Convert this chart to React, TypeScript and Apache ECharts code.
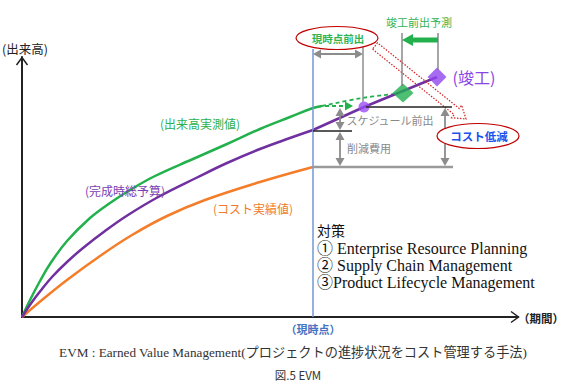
import React, { useEffect, useRef } from 'react';
import * as echarts from 'echarts';

// Data space: t = period (px from origin), v = value (px above origin)
const plannedValue = [[0,0],[10,15],[20,28],[30,40],[45,55],[61,69],[83,86],[106,102],[138,121],[174,139],[205,154],[238,168],[268,179],[291,187]];
const earnedValue = [[0,0],[8,17],[18,36],[28,53],[45,76],[68,99],[88,114],[108,127],[133,141],[171,158],[205,173],[238,188],[268,200],[291,209],[300,211]];
const actualCost = [[0,0],[20,17],[45,37],[78,61],[110,82],[145,101],[183,117],[238,135],[291,150]];
const plannedForecast = [[291,187],[342,210],[415,240]];
const earnedForecast = [[300,211],[340,219],[373,223]];
const schedulePoint = [[342,210]];
const forecastFinish = [[381,224]];
const plannedFinish = [[415,240]];

const measures = ['対策', '① Enterprise Resource Planning', '② Supply Chain Management', '③Product Lifecycle Management'];

const SANS = "'Noto Sans CJK JP', 'Noto Sans', sans-serif";
const SERIF = "'Liberation Serif', 'Noto Sans CJK JP', serif";
const GRAY = '#8c8c8c';
const GREEN = '#22b14c';
const PURPLE = '#7030a0';
const ORANGE = '#f47d2a';
const BLUE = '#7596d9';
const RED = '#c00000';

const line = (x1: number, y1: number, x2: number, y2: number, stroke: string, lineWidth: number, lineDash?: number[]) => ({
  type: 'line', z: 10, shape: { x1, y1, x2, y2 }, style: { stroke, lineWidth, lineDash: lineDash || null },
});
const tri = (tx: number, ty: number, dx: number, dy: number, len: number, half: number, fill: string) => {
  const bx = tx - dx * len, by = ty - dy * len;
  const nx = -dy, ny = dx;
  return { type: 'polygon', z: 11, shape: { points: [[tx, ty], [bx + nx * half, by + ny * half], [bx - nx * half, by - ny * half]] }, style: { fill } };
};
const dblV = (x: number, y1: number, y2: number) => [
  line(x, y1 + 6, x, y2 - 6, GRAY, 1.8), tri(x, y1, 0, -1, 8, 4.5, GRAY), tri(x, y2, 0, 1, 8, 4.5, GRAY),
];
const dblH = (y: number, x1: number, x2: number) => [
  line(x1 + 6, y, x2 - 6, y, GRAY, 1.8), tri(x1, y, -1, 0, 8, 4.5, GRAY), tri(x2, y, 1, 0, 8, 4.5, GRAY),
];
const txt = (text: string, x: number, y: number, fill: string, fontSize: number, fontWeight: any = 'normal', fontFamily = SANS, align = 'center') => ({
  type: 'text', z: 20, x, y,
  style: { text, fill, fontSize, fontWeight, fontFamily, textAlign: align, align, textVerticalAlign: 'middle', verticalAlign: 'middle' },
});
const blockArrow = (sx: number, sy: number, tx: number, ty: number) => {
  const L = Math.hypot(tx - sx, ty - sy);
  const ux = (tx - sx) / L, uy = (ty - sy) / L;
  const nx = -uy, ny = ux;
  const bx = tx - ux * 12, by = ty - uy * 12;
  const p = (x: number, y: number, k: number) => [x + nx * k, y + ny * k];
  return {
    type: 'polygon', z: 9,
    shape: { points: [p(sx, sy, 4), p(bx, by, 4), p(bx, by, 8), [tx, ty], p(bx, by, -8), p(bx, by, -4), p(sx, sy, -4)] },
    style: { fill: 'none', stroke: '#d42020', lineWidth: 1.2, lineDash: [1.5, 1.5] },
  };
};

export default function App() {
  const ref = useRef<HTMLDivElement>(null);
  useEffect(() => {
    if (!ref.current) return;
    const chart = echarts.init(ref.current, null, { renderer: 'svg' });
    const axisCommon = {
      type: 'value', min: 0,
      axisLine: { show: true, lineStyle: { color: '#222', width: 2 } },
      axisTick: { show: false }, axisLabel: { show: false }, splitLine: { show: false },
    };
    const graphic: any[] = [
      { type: 'polyline', z: 10, shape: { points: [[511, 311.5], [518.5, 317], [511, 322.5]] }, style: { stroke: '#222', lineWidth: 1.5, fill: 'none' } },
      { type: 'polyline', z: 10, shape: { points: [[16.5, 65], [22, 57.5], [27.5, 65]] }, style: { stroke: '#222', lineWidth: 1.5, fill: 'none' } },
      line(313, 49, 313, 317, BLUE, 1.5),
      line(363, 44, 363, 102, GRAY, 1.5),
      line(402, 33, 402, 86, '#777', 1.3),
      line(438, 33, 438, 70, '#777', 1.3),
      ...dblH(54, 313, 363),
      line(366, 107, 452, 107, '#222', 1.5),
      line(313, 131, 352, 131, '#222', 1.5),
      line(313, 167, 453, 167, '#9a9a9a', 2.5),
      ...dblV(340, 108, 130),
      ...dblV(340, 132, 166),
      ...dblV(445, 108, 166),
      line(438, 40, 411, 40, GREEN, 5),
      tri(402, 40, -1, 0, 11, 6, GREEN),
      line(325, 106, 345, 106, GREEN, 2, [4, 3]),
      tri(353, 106, 1, 0, 8, 4.5, GREEN),
      blockArrow(375, 46, 466, 119),
      { type: 'ellipse', z: 15, shape: { cx: 337, cy: 38, rx: 41, ry: 11.5 }, style: { fill: '#fff', stroke: RED, lineWidth: 1.2 } },
      { type: 'ellipse', z: 15, shape: { cx: 478, cy: 136, rx: 41, ry: 12.5 }, style: { fill: '#fff', stroke: RED, lineWidth: 1.2 } },
      txt('現時点前出', 338, 38, '#2fb552', 10.5, 'bold'),
      txt('コスト低減', 479, 136, '#1a52ee', 11.5, 'bold'),
      txt('竣工前出予測', 419, 22, '#30b354', 11),
      txt('(竣工)', 474, 77, '#8a45e6', 16),
      txt('スケジュール前出', 390, 120, '#888', 11),
      txt('削減費用', 369, 148, '#888', 11),
      txt('(出来高実測値)', 200, 123, '#2bb04d', 12),
      txt('(完成時総予算)', 125, 190, '#7a40b4', 12),
      txt('(コスト実績値)', 253, 208, '#f07a2a', 12),
      txt('(出来高)', 25, 48, '#222', 12.5),
      txt('（期間）', 541, 318, '#222', 11.5, 'bold'),
      txt('（現時点）', 313, 329, '#4472c4', 11, 'bold'),
      txt('EVM : Earned Value Management(プロジェクトの進捗状況をコスト管理する手法)', 293, 352, '#333', 13.2, 'normal', SERIF),
      txt('図.5 EVM', 298, 375, '#333', 11.5),
      ...measures.map((m, i) => txt(m, 317, 231 + i * 17, '#111', i === 0 ? 14 : 16, 'normal', SERIF, 'left')),
    ];
    chart.setOption({
      animation: false,
      grid: { left: 22, top: 57, width: 496, height: 260, containLabel: false },
      xAxis: { ...axisCommon, max: 496 },
      yAxis: { ...axisCommon, max: 260 },
      series: [
        { type: 'line', data: earnedValue, smooth: 0.4, showSymbol: false, lineStyle: { color: GREEN, width: 2.5 }, z: 3 },
        { type: 'line', data: plannedValue, smooth: 0.4, showSymbol: false, lineStyle: { color: PURPLE, width: 2.5 }, z: 4 },
        { type: 'line', data: actualCost, smooth: 0.4, showSymbol: false, lineStyle: { color: ORANGE, width: 2.5 }, z: 3 },
        { type: 'line', data: plannedForecast, showSymbol: false, lineStyle: { color: PURPLE, width: 2.5 }, z: 4 },
        { type: 'line', data: earnedForecast, smooth: 0.4, showSymbol: false, lineStyle: { color: GREEN, width: 1.8, type: [4, 3] }, z: 3 },
        { type: 'scatter', data: schedulePoint, symbol: 'circle', symbolSize: 11, itemStyle: { color: '#9b4ef2' }, z: 6 },
        { type: 'scatter', data: forecastFinish, symbol: 'diamond', symbolSize: [21, 19], itemStyle: { color: '#1faf50' }, z: 6 },
        { type: 'scatter', data: plannedFinish, symbol: 'diamond', symbolSize: [19, 19], itemStyle: { color: '#9146ef' }, z: 6 },
      ],
      graphic,
    });
    return () => chart.dispose();
  }, []);
  return <div ref={ref} style={{ position: 'fixed', left: 0, top: 0, width: 575, height: 385, background: '#fff' }} />;
}
